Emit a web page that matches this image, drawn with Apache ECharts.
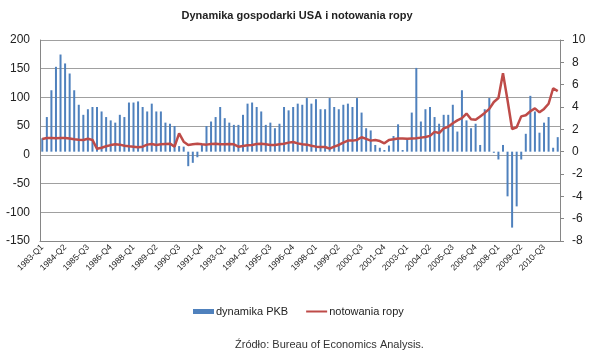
<!DOCTYPE html>
<html>
<head>
<meta charset="utf-8">
<script src="https://cdn.jsdelivr.net/npm/echarts@6/dist/echarts.min.js"></script>
<style>
  html, body { margin: 0; padding: 0; background: #fff; }
  #chart { width: 594px; height: 351px; }
</style>
</head>
<body>
<div id="chart"></div>
<script>
// kwartały 1983-Q1 .. 2011-Q2
const firstYear = 1983;
const quarterCount = 114;
const quarters = [];
for (let i = 0; i < quarterCount; i++) {
  quarters.push((firstYear + Math.floor(i / 4)) + "-Q" + (i % 4 + 1));
}

// dynamika PKB (%), oś prawa
const gdpGrowth = [
  1.2, 3.1, 5.5, 7.6, 8.7, 7.9, 7.0, 5.5, 4.2, 3.3,
  3.8, 4.0, 4.0, 3.6, 3.1, 2.8, 2.6, 3.3, 3.1, 4.4,
  4.4, 4.5, 4.0, 3.6, 4.3, 3.6, 3.6, 2.6, 2.5, 2.3,
  0.5, 0.45, -1.3, -1.0, -0.5, 0.7, 2.3, 2.7, 3.1, 4.0,
  3.0, 2.6, 2.4, 2.4, 3.3, 4.3, 4.4, 4.0, 3.6, 2.4,
  2.6, 2.1, 2.5, 4.0, 3.7, 4.0, 4.3, 4.2, 4.8, 4.3,
  4.7, 3.8, 3.8, 4.8, 4.0, 3.8, 4.2, 4.3, 4.0, 4.8,
  3.5, 2.1, 1.9, 0.6, 0.35, 0.15, 0.55, 1.4, 2.45, 0.15,
  1.2, 3.5, 7.5, 2.7, 3.8, 4.0, 3.1, 2.5, 3.3, 3.3,
  4.2, 1.8, 5.5, 2.8, 2.1, 2.5, 0.6, 3.8, 4.8, -0.1,
  -0.7, 0.6, -4.0, -6.8, -4.9, -0.7, 1.6, 5.0, 3.6, 1.7,
  2.6, 3.1, 0.35, 1.3
];

// notowania ropy (USD), oś lewa
const oilPrice = [
  27.7, 29.4, 29.4, 28.8, 29.4, 29.4, 28.3, 27.1, 26.5, 26.0,
  28.0, 26.0, 10.5, 12.5, 14.9, 17.0, 18.4, 17.8, 16.0, 14.9,
  14.3, 13.2, 14.3, 17.8, 19.0, 17.2, 18.4, 19.0, 19.5, 14.3,
  37.5, 23.0, 17.2, 18.4, 19.5, 18.4, 17.8, 19.0, 19.5, 18.4,
  18.4, 19.0, 18.4, 14.3, 15.5, 16.6, 17.2, 19.0, 19.5, 18.4,
  17.2, 17.2, 18.4, 19.5, 21.3, 22.5, 20.0, 18.4, 17.8, 16.0,
  14.3, 13.7, 13.7, 10.8, 14.3, 17.2, 21.3, 24.8, 24.8, 26.0,
  30.6, 27.7, 24.8, 26.0, 24.0, 20.0, 26.0, 27.0, 28.5, 28.5,
  28.0, 28.5, 29.0, 30.0, 31.0, 33.0, 40.0, 38.0, 46.0, 49.0,
  55.0, 60.0, 64.0, 72.0, 62.0, 61.0, 67.0, 73.0, 80.0, 92.0,
  99.0, 142.0, 95.0, 45.0, 48.0, 67.0, 69.0, 76.0, 81.0, 74.0,
  80.0, 89.0, 116.0, 111.0
];

const leftTicks = { min: -150, max: 200, step: 50 };
const rightTicks = { min: -8, max: 10, step: 2 };

const chart = echarts.init(document.getElementById("chart"));

const font = "Liberation Sans, Arial, sans-serif";

chart.setOption({
  animation: false,
  textStyle: { fontFamily: font },
  title: [
    {
      text: "Dynamika gospodarki USA i notowania ropy",
      left: "center",
      top: 5,
      textStyle: { fontSize: 11, fontWeight: "bold", color: "#222", fontFamily: font }
    },
    {
      text: "Źródło: Bureau of Economics Analysis.",
      left: 230,
      top: 334,
      textStyle: { fontSize: 11, fontWeight: "normal", color: "#333", fontFamily: font }
    }
  ],
  legend: {
    left: 188,
    top: 301,
    itemGap: 17,
    itemWidth: 21,
    itemHeight: 5,
    textStyle: { fontSize: 11, color: "#222", padding: [0, 0, 0, -3] },
    data: [
      { name: "dynamika PKB", icon: "rect" },
      { name: "notowania ropy", itemStyle: { opacity: 0 } }
    ]
  },
  grid: { left: 40, right: 34, top: 40, bottom: 110 },
  xAxis: {
    type: "category",
    data: quarters,
    boundaryGap: true,
    axisLine: { show: true, onZero: false, lineStyle: { color: "#868686" } },
    axisTick: { show: false },
    axisLabel: { interval: 4, rotate: 45, fontSize: 8.5, margin: 5, color: "#222" }
  },
  yAxis: [
    {
      type: "value",
      position: "left",
      min: leftTicks.min,
      max: leftTicks.max,
      interval: leftTicks.step,
      axisLine: { show: true, lineStyle: { color: "#868686" } },
      axisTick: { show: false },
      axisLabel: { fontSize: 12, color: "#222", margin: 10 },
      splitLine: { show: true, lineStyle: { color: "#a0a0a0", width: 1 } }
    },
    {
      type: "value",
      position: "right",
      min: rightTicks.min,
      max: rightTicks.max,
      interval: rightTicks.step,
      axisLine: { show: true, lineStyle: { color: "#868686" } },
      axisTick: { show: true, length: 4, lineStyle: { color: "#868686" } },
      axisLabel: { fontSize: 12, color: "#222", margin: 12 },
      splitLine: { show: false }
    }
  ],
  series: [
    {
      name: "dynamika PKB",
      type: "bar",
      yAxisIndex: 1,
      data: gdpGrowth,
      barWidth: 2,
      itemStyle: { color: "#4f81bd" }
    },
    {
      name: "notowania ropy",
      type: "line",
      yAxisIndex: 0,
      data: oilPrice,
      symbol: "none",
      lineStyle: { color: "#be4b48", width: 2.5 },
      itemStyle: { color: "#be4b48" }
    }
  ]
});
</script>
</body>
</html>
